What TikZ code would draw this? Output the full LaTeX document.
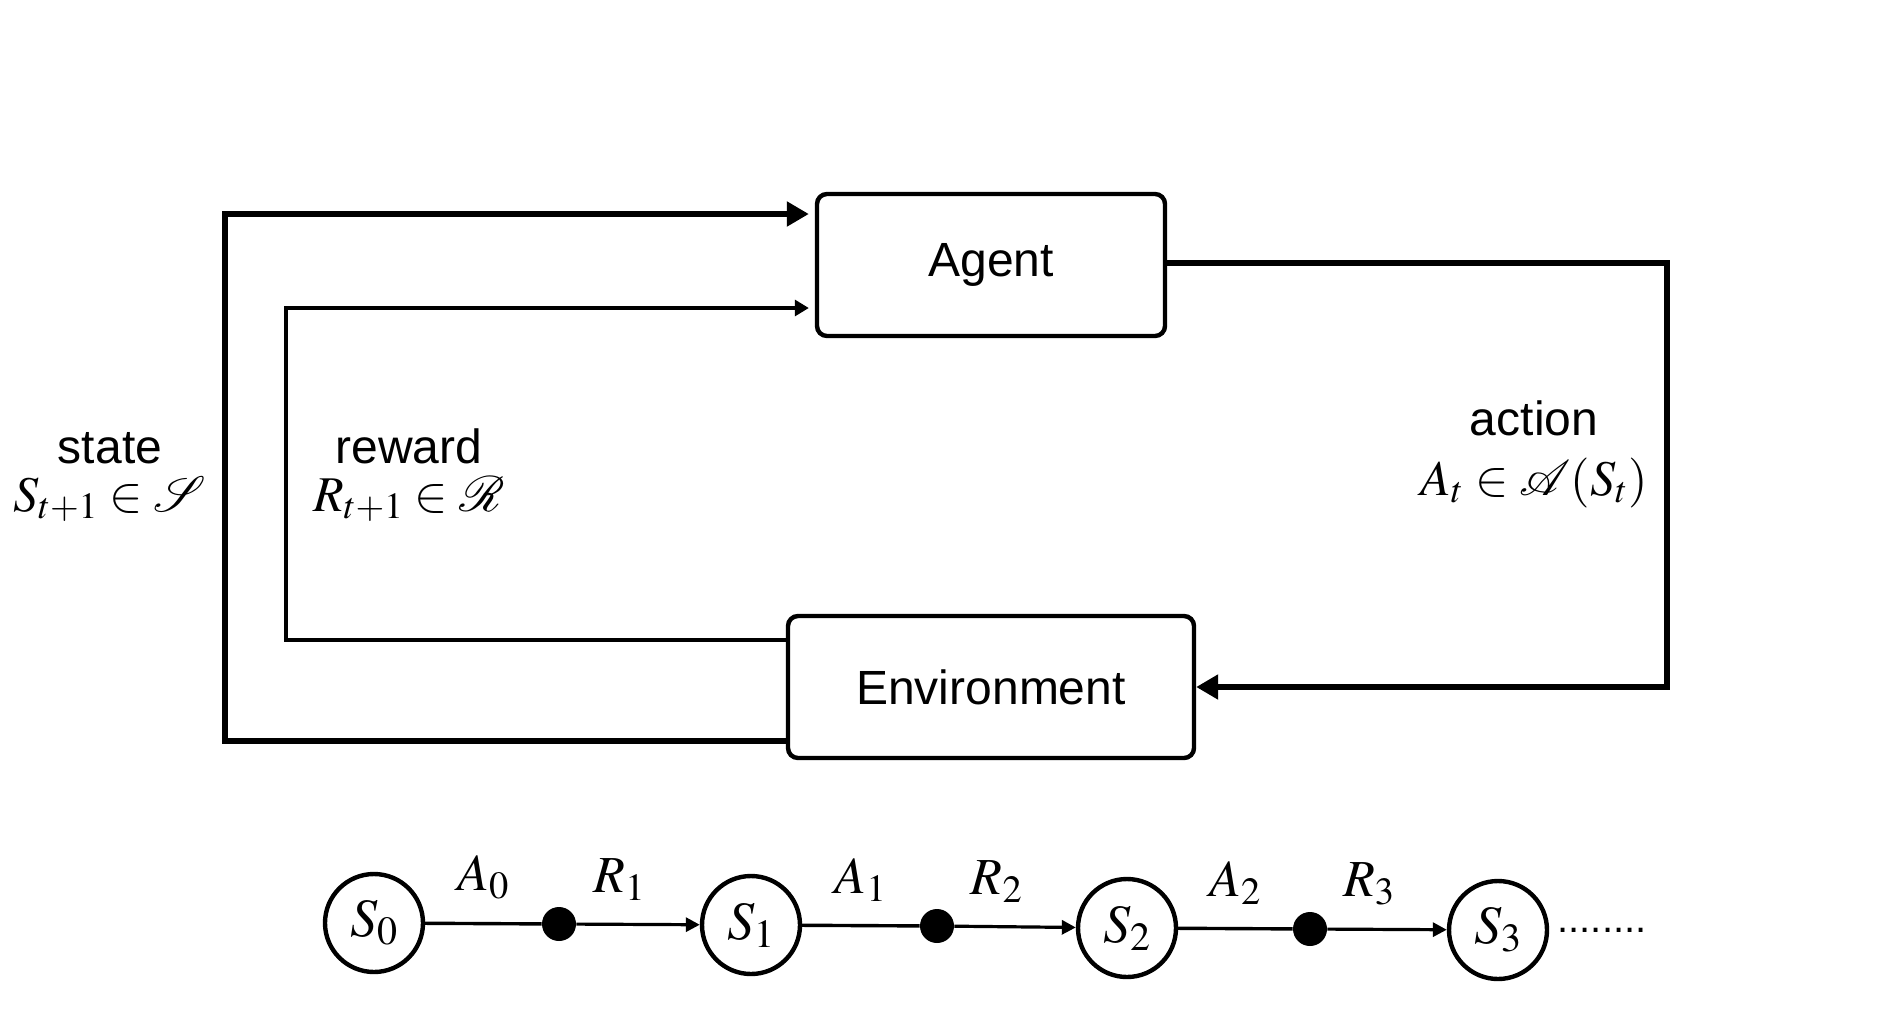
\documentclass[tikz,border=0pt]{standalone}
\usepackage{mathptmx}
\usepackage{mathrsfs}
\usepackage[no-math]{fontspec}
\setmainfont{Liberation Sans}
\usetikzlibrary{arrows.meta}

\newcommand{\lblmath}[1]{{\fontsize{25}{30}\selectfont$#1$}}

\tikzset{
    box/.style={draw, line width=2.2pt, rounded corners=5pt, minimum height=71pt,
        font=\fontsize{24}{28}\selectfont},
    bigarrow/.style={line width=2.6pt, -{Triangle[length=11pt,width=12pt]}},
    smallarrow/.style={line width=1.6pt, -{Triangle[length=7pt,width=7pt]}},
    lbl/.style={font=\fontsize{24}{28}\selectfont, inner sep=0pt, align=center},
    snode/.style={draw, circle, line width=2.2pt, minimum size=49pt, inner sep=0pt,
        font=\fontsize{27}{32}\selectfont},
    chaindot/.style={circle, fill=black, minimum size=17pt, inner sep=0pt},
    chainline/.style={line width=1.7pt},
    chainlbl/.style={font=\fontsize{26}{30}\selectfont}
}

\begin{document}
\begin{tikzpicture}[x=0.5pt,y=-0.5pt]
    \useasboundingbox (0,0) rectangle (1894,1012);

    \node[box, minimum width=174pt] (agent) at (991,265) {Agent};
    \node[box, minimum width=203pt] (env) at (991,687) {Environment};

    \coordinate (stateturn) at (225,480);
    \coordinate (rewardturn) at (286,480);
    \coordinate (actionturn) at (1667,480);

    % feedback loops
    \draw[bigarrow, shorten >=3pt] ([yshift=-27pt]env.west) -| (stateturn) |- ([yshift=25.5pt]agent.west);
    \draw[line width=1.6pt, -{Triangle[length=7pt,width=8pt]}, shorten >=3pt] ([yshift=23.5pt]env.west) -| (rewardturn) |- ([yshift=-21.5pt]agent.west);
    \draw[bigarrow] ([yshift=1pt]agent.east) -| (actionturn) |- (env.east);

    \node[lbl, anchor=base] (statelbl) at (110,511) {state\\[-4pt]\lblmath{S_{t+1}\in\mathscr{S}}};
    \node[lbl, anchor=base] (rewardlbl) at (409,511) {reward\\[-4pt]\lblmath{R_{t+1}\in\mathscr{R}}};
    \node[lbl, anchor=base] (actionlbl) at (1534,495) {action\\[2pt]\lblmath{A_t\in\mathscr{A}(S_t)}};

    % trajectory
    \node[snode] (s0) at (374,923) {$S_0$};
    \node[chaindot] (d0) at (559,924) {};
    \node[snode] (s1) at (751,925) {$S_1$};
    \node[chaindot] (d1) at (937,926) {};
    \node[snode] (s2) at (1127,928) {$S_2$};
    \node[chaindot] (d2) at (1310,929) {};
    \node[snode] (s3) at (1498,930) {$S_3$};

    \draw[chainline] (s0) -- (d0) node[chainlbl, midway, above=8pt] {$A_0$};
    \draw[chainline, smallarrow] (d0) -- (s1) node[chainlbl, pos=0.35, above=8pt] {$R_1$};
    \draw[chainline] (s1) -- (d1) node[chainlbl, midway, above=8pt] {$A_1$};
    \draw[chainline, smallarrow] (d1) -- (s2) node[chainlbl, pos=0.35, above=8pt] {$R_2$};
    \draw[chainline] (s2) -- (d2) node[chainlbl, midway, above=8pt] {$A_2$};
    \draw[chainline, smallarrow] (d2) -- (s3) node[chainlbl, pos=0.35, above=8pt] {$R_3$};

    \node[anchor=west, font=\fontsize{20}{24}\selectfont, inner sep=0pt] (etc) at ([xshift=4pt]s3.east) {........};

\end{tikzpicture}
\end{document}
